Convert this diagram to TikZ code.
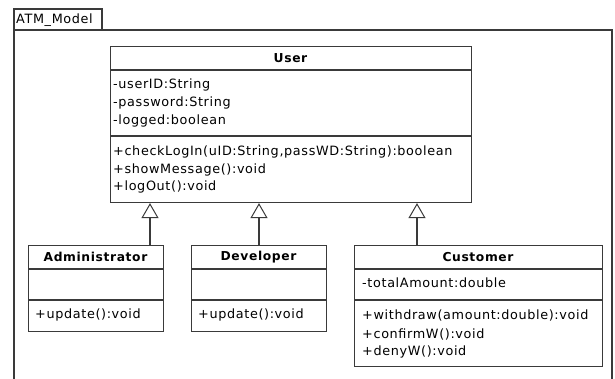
\documentclass[tikz,border=0pt]{standalone}
\usepackage{fontspec}
\setmainfont{DejaVu Sans}[LetterSpace=5]
\usetikzlibrary{arrows.meta}
\definecolor{umlline}{HTML}{3A3A3A}
\begin{document}
\begin{tikzpicture}[x=1pt,y=-1pt,
  classbox/.style={draw=umlline,line width=1.1pt,anchor=north west,inner sep=0pt},
  sep/.style={draw=umlline,line width=1.1pt},
  member/.style={anchor=west,inner sep=0pt,font=\fontsize{12.8}{14}\selectfont},
  title/.style={inner sep=0pt,font=\fontsize{12.3}{14}\selectfont\bfseries},
  inherit/.style={draw=umlline,line width=1.1pt,-{Triangle[open,length=15pt,width=17pt,line width=1pt]}}]
\useasboundingbox (0,0) rectangle (615,379);
% package frame with its tab
\draw[umlline,line width=1.1pt] (14,30) rectangle (102,9);
\node[member] (pkg) at (16,20) {ATM\_Model};
\draw[umlline,line width=1.1pt] (14,385) -- (14,30) -- (612,30) -- (612,385);
% User
\node[classbox,minimum width=361pt,minimum height=156pt] (user) at (110,46) {};
\draw[sep] (110,70) -- (471,70);
\draw[sep] (110,136) -- (471,136);
\node[title] (usert) at (290.5,58) {User};
\node[member] (u1) at (113,85) {-userID:String};
\node[member] (u2) at (113,103) {-password:String};
\node[member] (u3) at (113,121) {-logged:boolean};
\node[member] (u4) at (113,152) {+checkLogIn(uID:String,passWD:String):boolean};
\node[member] (u5) at (113,170) {+showMessage():void};
\node[member] (u6) at (113,187) {+logOut():void};
% Administrator
\node[classbox,minimum width=135pt,minimum height=86pt] (admin) at (28,245) {};
\draw[sep] (28,269) -- (163,269);
\draw[sep] (28,300) -- (163,300);
\node[title] (admint) at (95.5,257) {Administrator};
\node[member] (a1) at (35,315) {+update():void};
% Developer
\node[classbox,minimum width=135pt,minimum height=86pt] (dev) at (191,245) {};
\draw[sep] (191,269) -- (326,269);
\draw[sep] (191,300) -- (326,300);
\node[title] (devt) at (258.5,257) {Developer};
\node[member] (d1) at (198,315) {+update():void};
% Customer
\node[classbox,minimum width=248pt,minimum height=121pt] (cust) at (354,245) {};
\draw[sep] (354,269) -- (602,269);
\draw[sep] (354,300) -- (602,300);
\node[title] (custt) at (478,257) {Customer};
\node[member] (c1) at (362,283) {-totalAmount:double};
\node[member] (c2) at (362,315) {+withdraw(amount:double):void};
\node[member] (c3) at (362,334) {+confirmW():void};
\node[member] (c4) at (362,352) {+denyW():void};
% generalisations
\draw[inherit] (admin.north -| 150,0) -- (user.south -| 150,0);
\draw[inherit] (dev.north -| 259,0) -- (user.south -| 259,0);
\draw[inherit] (cust.north -| 417,0) -- (user.south -| 417,0);
\end{tikzpicture}
\end{document}
